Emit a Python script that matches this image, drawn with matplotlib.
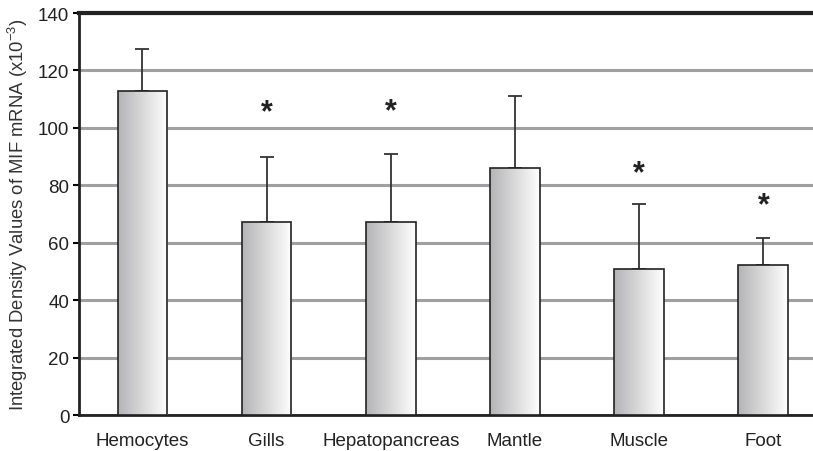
import numpy as np
import matplotlib
matplotlib.use("Agg")
import matplotlib.pyplot as plt
from matplotlib.patches import Rectangle

plt.rcParams['font.family'] = ['Liberation Sans', 'DejaVu Sans']
plt.rcParams['mathtext.fontset'] = 'custom'
plt.rcParams['mathtext.rm'] = 'Liberation Sans'
plt.rcParams['mathtext.it'] = 'Liberation Sans'

tissues = ['Hemocytes', 'Gills', 'Hepatopancreas', 'Mantle', 'Muscle', 'Foot']
means = [112.9, 67.3, 67.3, 86.1, 50.8, 52.3]
errors = [14.7, 22.4, 23.5, 25.1, 22.6, 9.3]
stars = ['', '*', '*', '', '*', '*']
star_y = [0, 107.3, 107.8, 0, 86.3, 75.0]

fig = plt.figure(figsize=(8.13, 4.52), dpi=100)
ax = fig.add_axes([0.0972, 0.0796, 0.9028, 0.8894])

x = np.arange(len(tissues))
w = 0.40

# gradient for bars: grey on the left, white on the right
grad = np.linspace(0, 1, 256).reshape(1, -1)
cmap = matplotlib.colors.LinearSegmentedColormap.from_list('g', ['#b4b4b6', '#ffffff'])

ax.errorbar(x, means, yerr=[np.zeros(len(means)), errors], fmt='none',
            ecolor='#333333', elinewidth=1.3, capsize=5, capthick=1.3, zorder=2)

for xi, m in zip(x, means):
    im = ax.imshow(grad, extent=[xi - w / 2, xi + w / 2, 0, m], aspect='auto',
                   cmap=cmap, zorder=3, interpolation='bicubic')
    r = Rectangle((xi - w / 2, 0), w, m, fill=False, edgecolor='#222222', lw=1.2, zorder=4)
    ax.add_patch(r)
    im.set_clip_path(r)

# asterisks (glyph sits high in its box, so nudge down a bit)
for xi, s, sy in zip(x, stars, star_y):
    if s:
        ax.annotate(s, (xi, sy), xytext=(0, -4), textcoords='offset points',
                    ha='center', va='center', fontsize=22, fontweight='bold',
                    color='#222222')

ax.set_xlim(-0.51, 5.40)
ax.set_ylim(0, 140)
ax.set_yticks(range(0, 141, 20))
ax.yaxis.grid(True, color='#a0a0a2', lw=2.2)
ax.set_axisbelow(True)
ax.set_xticks(x)
ax.set_xticklabels(tissues, fontsize=13.5, color='#222222')
ax.tick_params(axis='x', length=0, pad=12)
ax.tick_params(axis='y', length=4, width=1.5, labelsize=13.5, labelcolor='#222222', pad=3)

for side in ['left', 'bottom']:
    ax.spines[side].set_linewidth(2)
    ax.spines[side].set_color('#222222')
ax.spines['top'].set_linewidth(3)
ax.spines['top'].set_color('#222222')
ax.spines['right'].set_visible(False)

ax.set_ylabel(r'Integrated Density Values of MIF mRNA (x10$^{-3}$)', fontsize=13.3,
              color='#333333', labelpad=6)

fig.savefig('out.png', dpi=100)
